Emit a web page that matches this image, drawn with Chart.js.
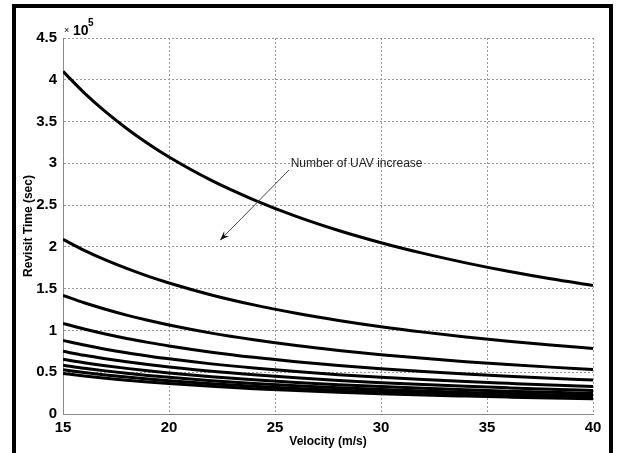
<!DOCTYPE html>
<html>
<head>
<meta charset="utf-8">
<script src="https://cdn.jsdelivr.net/npm/chart.js@4/dist/chart.umd.min.js"></script>
<style>
  html, body { margin: 0; padding: 0; background: #fff; }
  #wrap { position: relative; width: 618px; height: 453px; }
</style>
</head>
<body>
<div id="wrap"><canvas id="c" width="618" height="453"></canvas></div>
<script>
// Velocity (m/s)
const velocities = [15, 16, 17, 18, 19, 20, 22, 24, 26, 28, 30, 32, 34, 36, 38, 40];
// Revisit time, in units of 10^5 s, one series per number of UAVs
const uav1  = [4.10, 3.844, 3.618, 3.417, 3.237, 3.075, 2.795, 2.563, 2.365, 2.196, 2.05, 1.922, 1.809, 1.708, 1.618, 1.538];
const uav2  = [2.09, 1.959, 1.844, 1.742, 1.65, 1.568, 1.425, 1.306, 1.206, 1.12, 1.045, 0.98, 0.922, 0.871, 0.825, 0.784];
const uav3  = [1.42, 1.331, 1.253, 1.183, 1.121, 1.065, 0.968, 0.888, 0.819, 0.761, 0.71, 0.666, 0.626, 0.592, 0.561, 0.533];
const uav4  = [1.085, 1.017, 0.957, 0.904, 0.857, 0.814, 0.74, 0.678, 0.626, 0.581, 0.543, 0.509, 0.479, 0.452, 0.428, 0.407];
const uav5  = [0.88, 0.825, 0.776, 0.733, 0.695, 0.66, 0.6, 0.55, 0.508, 0.471, 0.44, 0.413, 0.388, 0.367, 0.347, 0.33];
const uav6  = [0.75, 0.703, 0.662, 0.625, 0.592, 0.563, 0.511, 0.469, 0.433, 0.402, 0.375, 0.352, 0.331, 0.313, 0.296, 0.281];
const uav7  = [0.655, 0.614, 0.578, 0.546, 0.517, 0.491, 0.447, 0.409, 0.378, 0.351, 0.328, 0.307, 0.289, 0.273, 0.259, 0.246];
const uav8  = [0.585, 0.548, 0.516, 0.488, 0.462, 0.439, 0.399, 0.366, 0.338, 0.313, 0.293, 0.274, 0.258, 0.244, 0.231, 0.219];
const uav9  = [0.53, 0.497, 0.468, 0.442, 0.418, 0.398, 0.361, 0.331, 0.306, 0.284, 0.265, 0.248, 0.234, 0.221, 0.209, 0.199];
const uav10 = [0.485, 0.455, 0.428, 0.404, 0.383, 0.364, 0.331, 0.303, 0.28, 0.26, 0.243, 0.227, 0.214, 0.202, 0.191, 0.182];
const seriesList = [uav1, uav2, uav3, uav4, uav5, uav6, uav7, uav8, uav9, uav10];
// Tick values
const xTicks = [15, 20, 25, 30, 35, 40];
const yTicks = [0, 0.5, 1, 1.5, 2, 2.5, 3, 3.5, 4, 4.5];
// Annotation (data coordinates)
const annotText = "Number of UAV increase";
const annotTextPos = [25.74, 2.99];
const arrowFrom = [25.66, 2.92];
const arrowTo = [22.41, 2.08];

const datasets = seriesList.map((s, i) => ({
  label: 'UAV ' + (i + 1),
  data: velocities.map((v, j) => ({ x: v, y: s[j] })),
  borderColor: '#000',
  borderWidth: 3,
  pointRadius: 0,
  fill: false,
  cubicInterpolationMode: 'monotone'
}));

const extras = {
  id: 'extras',
  afterDraw(chart) {
    const ctx = chart.ctx;
    const xs = chart.scales.x, ys = chart.scales.y;
    ctx.save();
    // multiplier label
    ctx.fillStyle = '#000';
    ctx.textBaseline = 'alphabetic';
    ctx.textAlign = 'left';
    ctx.font = '9px "Liberation Sans", Arial, sans-serif';
    ctx.fillText('\u00d7', ys.right + 1, 33);
    ctx.font = 'bold 14px "Liberation Sans", Arial, sans-serif';
    ctx.fillText('10', ys.right + 10, 35);
    ctx.font = 'bold 10px "Liberation Sans", Arial, sans-serif';
    ctx.fillText('5', ys.right + 25, 26);
    // annotation
    ctx.font = '12px "Liberation Sans", Arial, sans-serif';
    ctx.fillStyle = '#222';
    ctx.textBaseline = 'middle';
    ctx.fillText(annotText, xs.getPixelForValue(annotTextPos[0]), ys.getPixelForValue(annotTextPos[1]));
    const x1 = xs.getPixelForValue(arrowFrom[0]), y1 = ys.getPixelForValue(arrowFrom[1]);
    const x2 = xs.getPixelForValue(arrowTo[0]), y2 = ys.getPixelForValue(arrowTo[1]);
    ctx.strokeStyle = '#444';
    ctx.lineWidth = 1;
    ctx.beginPath(); ctx.moveTo(x1, y1); ctx.lineTo(x2, y2); ctx.stroke();
    const ang = Math.atan2(y2 - y1, x2 - x1);
    const L = 10, W = 0.35;
    ctx.fillStyle = '#111';
    ctx.beginPath();
    ctx.moveTo(x2, y2);
    ctx.lineTo(x2 - L * Math.cos(ang - W), y2 - L * Math.sin(ang - W));
    ctx.lineTo(x2 - 0.6 * L * Math.cos(ang), y2 - 0.6 * L * Math.sin(ang));
    ctx.lineTo(x2 - L * Math.cos(ang + W), y2 - L * Math.sin(ang + W));
    ctx.closePath(); ctx.fill();
    // outer frame
    ctx.fillStyle = '#000';
    ctx.fillRect(12, 4, 4, 449);
    ctx.fillRect(12, 4, 601, 4);
    ctx.fillRect(609, 4, 4, 449);
    ctx.restore();
  }
};

new Chart(document.getElementById('c'), {
  type: 'line',
  data: { datasets },
  plugins: [extras],
  options: {
    responsive: false,
    animation: false,
    layout: { padding: { left: 0, top: 38, right: 25, bottom: 0 } },
    plugins: { legend: { display: false }, tooltip: { enabled: false } },
    scales: {
      x: {
        type: 'linear', min: 15, max: 40,
        afterBuildTicks(scale) { scale.ticks = xTicks.map(v => ({ value: v })); },
        afterFit(scale) { scale.height = 39; },
        grid: { color: '#999', lineWidth: 1, drawTicks: false },
        border: { display: true, color: '#888', width: 1, dash: [2, 2] },
        ticks: { color: '#000', padding: 5, maxRotation: 0, font: { family: '"Liberation Sans", Arial, sans-serif', size: 15, weight: 'bold' } },
        title: { display: true, text: 'Velocity (m/s)', color: '#000', padding: { top: 0, bottom: 4 }, font: { family: '"Liberation Sans", Arial, sans-serif', size: 12, weight: 'bold' } }
      },
      y: {
        type: 'linear', min: 0, max: 4.5,
        afterBuildTicks(scale) { scale.ticks = yTicks.map(v => ({ value: v })); },
        afterFit(scale) { scale.width = 63; },
        grid: { color: '#999', lineWidth: 1, drawTicks: false },
        border: { display: true, color: '#888', width: 1, dash: [2, 2] },
        ticks: { color: '#000', padding: 6, callback: v => String(v), font: { family: '"Liberation Sans", Arial, sans-serif', size: 15, weight: 'bold' } },
        title: { display: true, text: 'Revisit Time (sec)', color: '#000', padding: { top: 21, bottom: 0 }, font: { family: '"Liberation Sans", Arial, sans-serif', size: 12, weight: 'bold' } }
      }
    }
  }
});
</script>
</body>
</html>
